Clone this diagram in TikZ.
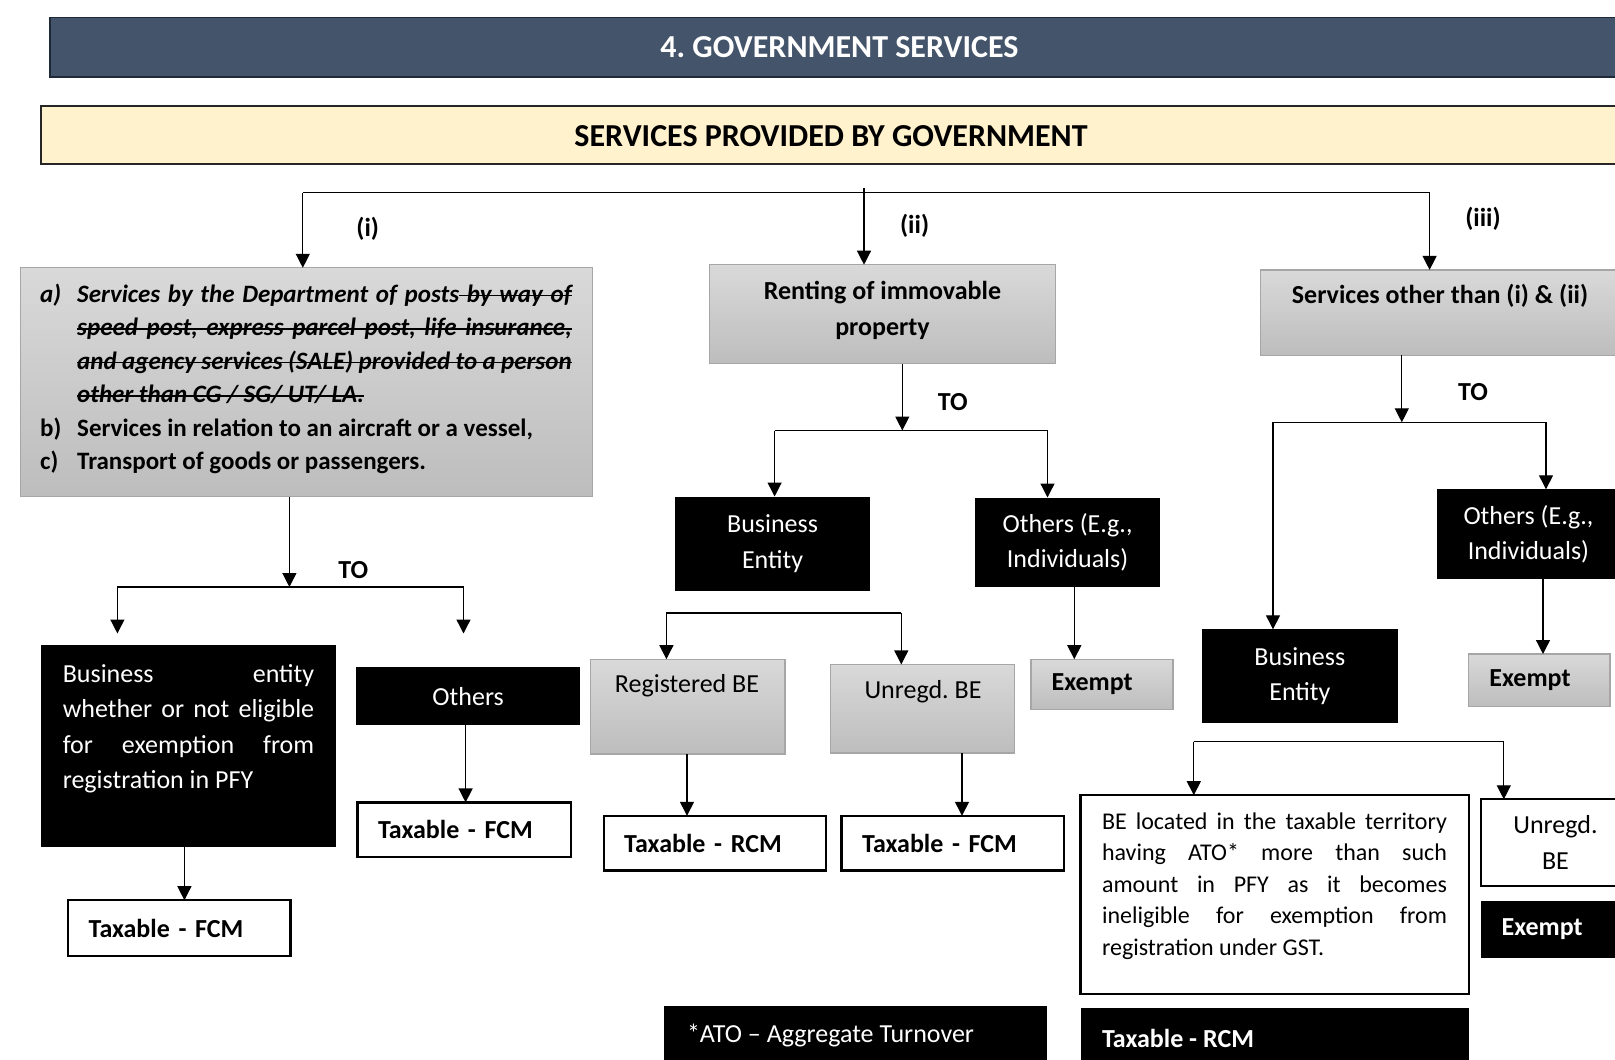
\documentclass[tikz,border=0pt]{standalone}
\usepackage{fontspec}
\setmainfont{Carlito}
\usetikzlibrary{arrows.meta}
\definecolor{titlebg}{HTML}{44546A}
\definecolor{titleedge}{HTML}{1F2A38}
\definecolor{cream}{HTML}{FFF2CC}
\definecolor{graytop}{HTML}{D9D9D9}
\definecolor{graybot}{HTML}{BDBDBD}
\definecolor{grayedge}{HTML}{A6A6A6}
\hyphenpenalty=10000
\tolerance=10000
\hbadness=10000
\frenchspacing
% struck-out words and the struck-out spaces between them
\newcommand{\strikeword}[1]{\setbox0=\hbox{#1}\rlap{\vrule height 7.4pt depth -5.6pt width \wd0}\box0}
\newcommand{\strikegap}{\leaders\hrule height 7.4pt depth -5.6pt\hskip\fontdimen2\font plus\fontdimen3\font minus\fontdimen4\font\relax}
\begin{document}
\begin{tikzpicture}[x=1pt,y=-1pt,
  every node/.style={inner sep=0pt,outer sep=0pt},
  bodyfont/.style={font=\fontsize{26}{35.5}\selectfont},
  boldfont/.style={font=\fontsize{26}{35.5}\selectfont\bfseries},
  size/.style 2 args={minimum width=#1pt,minimum height=#2pt},
  darkbox/.style={rectangle,fill=black,text=white,align=center,bodyfont},
  greybox/.style={rectangle,draw=grayedge,line width=1.2pt,top color=graytop,bottom color=graybot},
  outlinebox/.style={rectangle,draw=black,line width=2.2pt,fill=white},
  padtext/.style={align=left,inner xsep=20.6pt,text width=#1pt},
  conn/.style={line width=1.3pt},
  arr/.style={conn,-{Triangle[width=14pt,length=14pt]}}
]
\useasboundingbox (0,0) rectangle (1615,1060);
\clip (0,0) rectangle (1615,1060);
\fill[white] (0,0) rectangle (1615,1060);

% headings
\node[rectangle,fill=titlebg,draw=titleedge,line width=1.5pt,size={1600}{59.5},anchor=north west] (title) at (50,17.5) {};
\node[font=\fontsize{32}{38}\selectfont\bfseries,text=white] (titletext) at (839.5,47.4) {4. GOVERNMENT SERVICES};
\node[rectangle,fill=cream,draw=black!85,line width=1.3pt,size={1610}{58},anchor=north west] (head) at (41,106) {};
\node[font=\fontsize{32}{38}\selectfont\bfseries] (headtext) at (831,136) {SERVICES PROVIDED BY GOVERNMENT};

% ---------- branch (i) ----------
\node[greybox,size={571.7}{228.7}] (posts) at (306.45,382.15) {};
\node[anchor=base west,text width=531.5pt,align=justify,font=\fontsize{25}{33.5}\selectfont\bfseries] (poststext) at (40.2,302) {%
\hangindent=37pt\hangafter=1\noindent{\itshape\makebox[37pt][l]{a)}Services by the Department of posts\strikegap\strikeword{by}\strikegap\strikeword{way}\strikegap\strikeword{of}\linebreak
\strikeword{speed}\strikegap\strikeword{post,}\strikegap\strikeword{express}\strikegap\strikeword{parcel}\strikegap\strikeword{post,}\strikegap\strikeword{life}\strikegap\strikeword{insurance,}\linebreak
\strikeword{and}\strikegap\strikeword{agency}\strikegap\strikeword{services}\strikegap\strikeword{(SALE)}\strikegap\strikeword{provided}\strikegap\strikeword{to}\strikegap\strikeword{a}\strikegap\strikeword{person}\linebreak
\strikeword{other}\strikegap\strikeword{than}\strikegap\strikeword{CG}\strikegap\strikeword{/}\strikegap\strikeword{SG/}\strikegap\strikeword{UT/}\strikegap\strikeword{LA.}}\par
\hangindent=37pt\hangafter=1\noindent\makebox[37pt][l]{b)}Services in relation to an aircraft or a vessel,\par
\hangindent=37pt\hangafter=1\noindent\makebox[37pt][l]{c)}Transport of goods or passengers.};

\node[darkbox,size={294.6}{201.9}] (beleft) at (188.5,745.75) {};
\node[anchor=base west,text width=251.4pt,align=justify,bodyfont,text=white] (belefttext) at (62.8,682) {Business entity\linebreak whether or not eligible\linebreak for exemption from\linebreak registration in PFY};
\node[outlinebox,size={222.5}{55.6},boldfont,padtext=181.3] (fcmleft) at (179.25,928) {Taxable - FCM};
\node[darkbox,size={223.5}{57.7}] (othleft) at (468.15,696.25) {Others};
\node[outlinebox,size={213.2}{54.6},boldfont,padtext=172] (fcmothers) at (464,829.7) {Taxable - FCM};

% ---------- branch (ii) ----------
\node[greybox,size={346.1}{98.9}] (renting) at (882.75,314.15) {};
\node[boldfont,align=center] (rentingtext) at (882.5,310.5) {Renting of immovable\\property};
\node[darkbox,size={195.7}{94.7}] (bemid) at (772.55,543.85) {Business\\Entity};
\node[darkbox,size={184.4}{89.6}] (othmid) at (1067.6,542.3) {Others (E.g.,\\Individuals)};
\node[greybox,size={194.7}{94.8}] (regbe) at (687.55,706.6) {};
\node[bodyfont] (regbetext) at (687,686) {Registered BE};
\node[greybox,size={184.4}{88.6}] (unrbe) at (922.4,708.7) {};
\node[bodyfont] (unrbetext) at (923,692) {Unregd. BE};
\node[outlinebox,size={222.4}{54.6},boldfont,padtext=181.2] (rcmmid) at (714.8,843.1) {Taxable - RCM};
\node[outlinebox,size={222.5}{54.6},boldfont,padtext=181.3] (fcmmid) at (952.75,843.1) {Taxable - FCM};
\node[greybox,size={142}{50.5},boldfont,padtext=100.8] (exmid) at (1102,684.45) {Exempt};

% ---------- branch (iii) ----------
\node[greybox,size={359.3}{85.5}] (othersvc) at (1440.35,312.65) {};
\node[boldfont] (othersvctext) at (1440,295.6) {Services other than (i) \& (ii)};
\node[darkbox,size={183.1}{89.6}] (othright) at (1528.45,534.1) {Others (E.g.,\\Individuals)};
\node[greybox,size={141.2}{52.6},boldfont,padtext=100] (exright) at (1539.4,680.3) {Exempt};
\node[darkbox,size={195.7}{93.7}] (beright) at (1299.85,676.15) {Business\\Entity};
\node[outlinebox,size={388.3}{198.8}] (ato) at (1274.65,894.6) {};
\node[anchor=base west,text width=345pt,align=justify,font=\fontsize{24}{31.6}\selectfont] (atotext) at (1102,829) {BE located in the taxable territory\linebreak having ATO* more than such\linebreak amount in PFY as it becomes\linebreak ineligible for exemption from\linebreak registration under GST.};
\node[outlinebox,size={149}{86.5},bodyfont,align=center] (unrright) at (1555.5,842.55) {Unregd.\\BE};
\node[darkbox,size={159}{57},font=\fontsize{26}{35.5}\selectfont\bfseries,padtext=117.8] (exdark) at (1560.5,929.5) {Exempt};
\node[darkbox,size={388.3}{67}] (rcmright) at (1274.65,1041.5) {};
\node[boldfont,text=white,anchor=west] (rcmrighttext) at (1102,1038) {Taxable - RCM};
\node[darkbox,size={382.1}{69}] (atonote) at (855.45,1040.5) {};
\node[bodyfont,text=white,anchor=west] (atonotetext) at (687,1035) {*ATO -- Aggregate Turnover};

% branch labels
\node[boldfont] (lbli) at (367.7,228.7) {(i)};
\node[boldfont] (lblii) at (914.6,225.6) {(ii)};
\node[boldfont] (lbliii) at (1483,218.4) {(iii)};
\node[boldfont] (toleft) at (353.3,569.6) {TO};
\node[boldfont] (tomid) at (952.8,401.7) {TO};
\node[boldfont] (toright) at (1473,392.4) {TO};

% ---------- connectors ----------
\coordinate (topL) at (302.8,192.6);
\coordinate (topM) at (864,192.6);
\coordinate (topR) at (1429.6,192.6);
\coordinate (topStem) at (864,187.5);
\draw[conn] (topL) -- (topR);
\draw[conn] (topStem) -- (topM);
\draw[arr] (topL) -- (topL |- posts.north);
\draw[arr] (topM) -- (topM |- renting.north);
\draw[arr] (topR) -- (topR |- othersvc.north);

% (i)
\coordinate (splitL) at (289.4,587);
\coordinate (splitLa) at (117.4,587);
\coordinate (splitLb) at (463.5,587);
\coordinate (endLa) at (117.4,633.5);
\coordinate (endLb) at (463.5,633.5);
\coordinate (colBeLeft) at (184.4,0);
\coordinate (colOthLeft) at (465.6,0);
\draw[arr] (posts.south -| splitL) -- (splitL);
\draw[conn] (splitLa) -- (splitLb);
\draw[arr] (splitLa) -- (endLa);
\draw[arr] (splitLb) -- (endLb);
\draw[arr] (beleft.south -| colBeLeft) -- (fcmleft.north -| colBeLeft);
\draw[arr] (othleft.south -| colOthLeft) -- (fcmothers.north -| colOthLeft);

% (ii)
\coordinate (splitM) at (902.3,430.5);
\coordinate (splitMa) at (774.6,430.5);
\coordinate (splitMb) at (1047.5,430.5);
\coordinate (splitM2a) at (666.4,612.9);
\coordinate (splitM2b) at (901.3,612.9);
\coordinate (colReg) at (687,0);
\coordinate (colUnr) at (962,0);
\coordinate (colOthMid) at (1074.3,0);
\draw[arr] (renting.south -| splitM) -- (splitM);
\draw[conn] (splitMa) -- (splitMb);
\draw[arr] (splitMa) -- (bemid.north -| splitMa);
\draw[arr] (splitMb) -- (othmid.north -| splitMb);
\draw[conn] (splitM2a) -- (splitM2b);
\draw[arr] (splitM2a) -- (regbe.north -| splitM2a);
\draw[arr] (splitM2b) -- (unrbe.north -| splitM2b);
\draw[arr] (regbe.south -| colReg) -- (rcmmid.north -| colReg);
\draw[arr] (unrbe.south -| colUnr) -- (fcmmid.north -| colUnr);
\draw[arr] (othmid.south -| colOthMid) -- (exmid.north -| colOthMid);

% (iii)
\coordinate (splitR) at (1401.8,422.3);
\coordinate (splitRa) at (1273,422.3);
\coordinate (splitRb) at (1546,422.3);
\coordinate (splitR2a) at (1193.8,741.6);
\coordinate (splitR2b) at (1503.8,741.6);
\coordinate (colOthRight) at (1543,0);
\draw[arr] (othersvc.south -| splitR) -- (splitR);
\draw[conn] (splitRa) -- (splitRb);
\draw[arr] (splitRa) -- (beright.north -| splitRa);
\draw[arr] (splitRb) -- (othright.north -| splitRb);
\draw[arr] (othright.south -| colOthRight) -- (exright.north -| colOthRight);
\draw[conn] (splitR2a) -- (splitR2b);
\draw[arr] (splitR2a) -- (ato.north -| splitR2a);
\draw[arr] (splitR2b) -- (unrright.north -| splitR2b);
\end{tikzpicture}
\end{document}
